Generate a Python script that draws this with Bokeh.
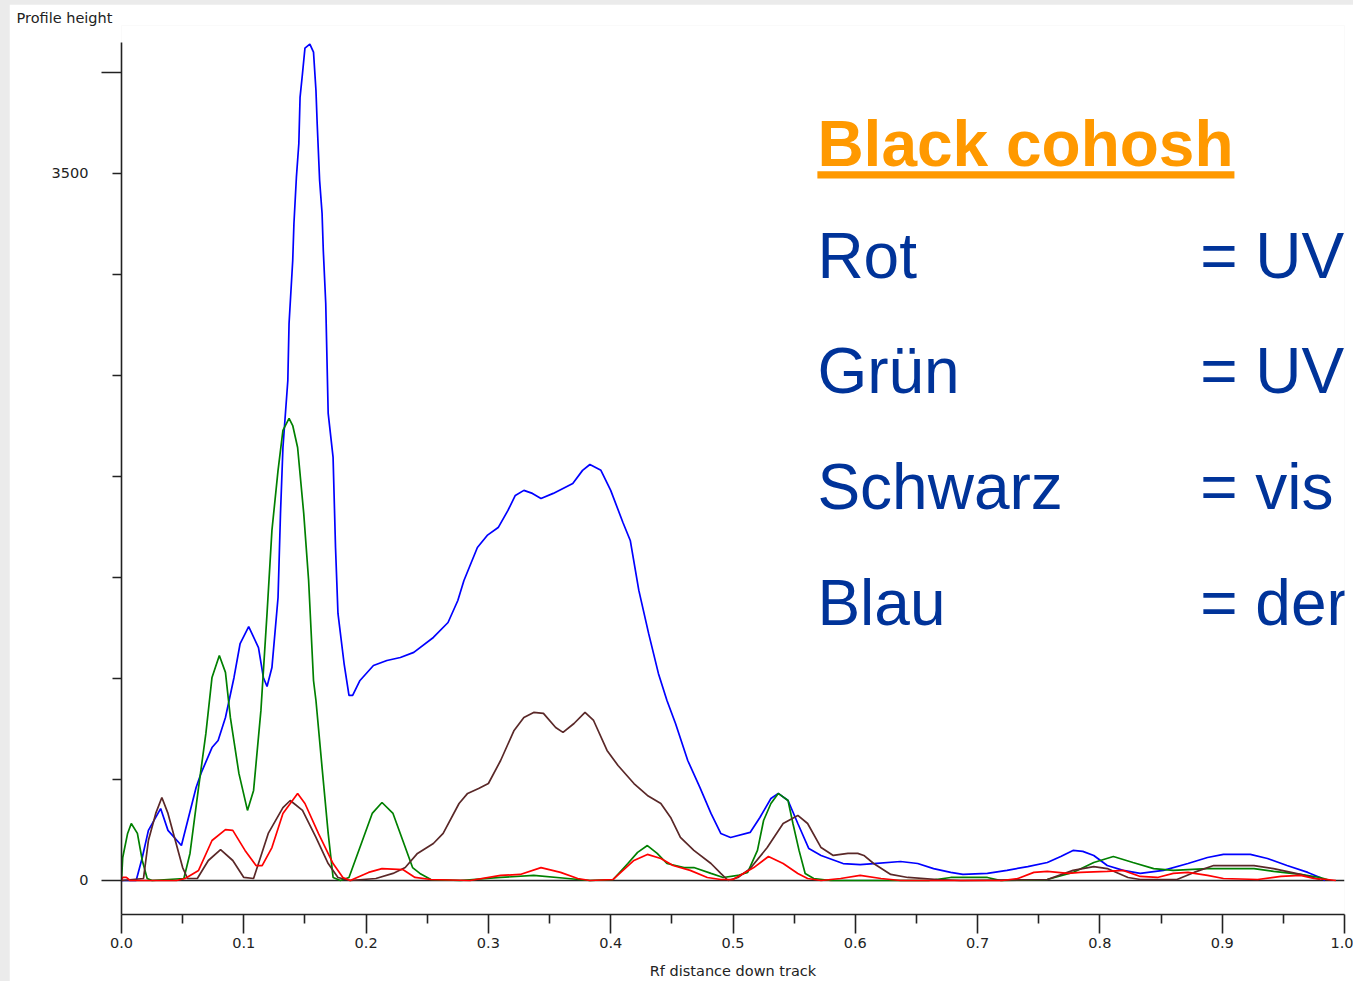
from bokeh.plotting import figure
from bokeh.models import (Range1d, FixedTicker, PrintfTickFormatter, Span, Label,
                          BoxAnnotation, Spacer, LinearAxis)
from bokeh.layouts import column, row
from bokeh.embed import file_html
from bokeh.resources import INLINE

# Densitometric profiles (Rf vs. profile height) for each detection mode
BLUE_RF = [0.000, 0.012, 0.017, 0.022, 0.032, 0.038, 0.049, 0.061, 0.065, 0.074,
           0.079, 0.085, 0.092, 0.097, 0.104, 0.112, 0.116, 0.119, 0.123, 0.128,
           0.130, 0.132, 0.136, 0.137, 0.140, 0.141, 0.143, 0.145, 0.146, 0.148,
           0.150, 0.154, 0.157, 0.159, 0.160, 0.162, 0.164, 0.165, 0.167, 0.169,
           0.173, 0.175, 0.177, 0.182, 0.186, 0.189, 0.195, 0.206, 0.217, 0.228,
           0.239, 0.255, 0.267, 0.275, 0.280, 0.291, 0.299, 0.308, 0.316, 0.322,
           0.329, 0.336, 0.343, 0.353, 0.369, 0.377, 0.383, 0.392, 0.400, 0.410,
           0.416, 0.423, 0.431, 0.439, 0.446, 0.453, 0.463, 0.473, 0.482, 0.490,
           0.498, 0.514, 0.522, 0.531, 0.537, 0.545, 0.553, 0.562, 0.572, 0.590,
           0.604, 0.615, 0.637, 0.651, 0.664, 0.678, 0.688, 0.708, 0.724, 0.741,
           0.757, 0.768, 0.778, 0.786, 0.795, 0.806, 0.819, 0.833, 0.852, 0.872,
           0.888, 0.901, 0.923, 0.937, 0.953, 0.970, 0.980, 0.984]
BLUE_H = [0, 0, 114, 248, 356, 248, 173, 460, 530, 658,
          693, 807, 1005, 1173, 1257, 1153, 1005, 960, 1054, 1401,
          1817, 2143, 2475, 2757, 3069, 3252, 3480, 3648, 3876, 3995,
          4120, 4140, 4100, 3911, 3747, 3465, 3302, 3119, 2856, 2312,
          2094, 1648, 1322, 1074, 916, 916, 990, 1064, 1089, 1104,
          1129, 1203, 1277, 1386, 1485, 1648, 1708, 1747, 1832, 1906,
          1931, 1916, 1891, 1916, 1965, 2030, 2059, 2030, 1931, 1772,
          1683, 1436, 1223, 1025, 891, 777, 594, 460, 332, 233,
          213, 238, 312, 406, 431, 396, 282, 158, 124, 84,
          79, 84, 94, 84, 59, 40, 30, 35, 50, 69,
          89, 119, 149, 144, 124, 74, 50, 35, 50, 84,
          114, 129, 129, 109, 74, 40, 15, 0]

GREEN_RF = [0.000, 0.001, 0.005, 0.008, 0.013, 0.017, 0.021, 0.025, 0.051, 0.056,
            0.063, 0.069, 0.074, 0.080, 0.085, 0.089, 0.096, 0.103, 0.108, 0.114,
            0.119, 0.123, 0.128, 0.132, 0.137, 0.140, 0.144, 0.149, 0.153, 0.157,
            0.159, 0.164, 0.169, 0.173, 0.179, 0.186, 0.197, 0.205, 0.213, 0.222,
            0.230, 0.238, 0.244, 0.253, 0.277, 0.310, 0.337, 0.365, 0.383, 0.402,
            0.414, 0.422, 0.430, 0.438, 0.446, 0.460, 0.468, 0.482, 0.492, 0.504,
            0.512, 0.520, 0.525, 0.531, 0.537, 0.545, 0.549, 0.554, 0.559, 0.566,
            0.580, 0.660, 0.678, 0.708, 0.719, 0.757, 0.778, 0.795, 0.811, 0.827,
            0.844, 0.860, 0.888, 0.926, 0.942, 0.964, 0.980, 0.986]
GREEN_H = [0, 114, 233, 282, 233, 99, 10, 0, 10, 134,
           460, 728, 1005, 1114, 1030, 807, 530, 347, 446, 842,
           1322, 1733, 2030, 2228, 2287, 2252, 2143, 1817, 1485, 990,
           891, 559, 233, 15, 0, 15, 198, 332, 386, 332,
           198, 64, 35, 5, 0, 15, 25, 10, 0, 5,
           84, 139, 173, 134, 84, 64, 64, 35, 15, 25,
           40, 149, 297, 381, 431, 396, 282, 149, 35, 10,
           0, 0, 15, 15, 0, 5, 40, 89, 119, 89,
           59, 50, 59, 59, 45, 30, 15, 5]

RED_RF = [0.000, 0.001, 0.004, 0.007, 0.045, 0.052, 0.063, 0.074, 0.085, 0.091,
          0.101, 0.110, 0.115, 0.123, 0.132, 0.144, 0.150, 0.161, 0.173, 0.181,
          0.187, 0.202, 0.213, 0.230, 0.240, 0.253, 0.285, 0.310, 0.326, 0.343,
          0.359, 0.373, 0.383, 0.402, 0.419, 0.430, 0.441, 0.451, 0.465, 0.479,
          0.490, 0.500, 0.517, 0.529, 0.541, 0.553, 0.561, 0.572, 0.588, 0.604,
          0.621, 0.637, 0.720, 0.733, 0.746, 0.757, 0.774, 0.784, 0.806, 0.819,
          0.833, 0.847, 0.860, 0.872, 0.888, 0.901, 0.929, 0.948, 0.964, 0.975,
          0.986, 0.993]
RED_H = [0, 15, 15, 0, 0, 10, 50, 198, 252, 248,
         149, 74, 74, 163, 332, 431, 381, 233, 84, 15,
         0, 40, 59, 54, 15, 5, 0, 25, 30, 64,
         40, 10, 0, 5, 99, 129, 109, 74, 50, 15,
         5, 5, 64, 119, 84, 35, 10, 0, 10, 25,
         10, 0, 0, 10, 40, 45, 35, 40, 45, 50,
         20, 15, 35, 40, 25, 10, 5, 20, 25, 10,
         5, 0]

BROWN_RF = [0.000, 0.018, 0.022, 0.028, 0.033, 0.038, 0.044, 0.050, 0.054, 0.062,
            0.071, 0.081, 0.091, 0.100, 0.108, 0.120, 0.132, 0.138, 0.148, 0.159,
            0.169, 0.177, 0.187, 0.208, 0.222, 0.232, 0.242, 0.255, 0.263, 0.276,
            0.283, 0.292, 0.300, 0.310, 0.321, 0.329, 0.337, 0.345, 0.355, 0.361,
            0.370, 0.379, 0.386, 0.397, 0.406, 0.419, 0.430, 0.441, 0.449, 0.457,
            0.468, 0.482, 0.490, 0.496, 0.504, 0.514, 0.528, 0.541, 0.553, 0.561,
            0.572, 0.582, 0.594, 0.602, 0.607, 0.615, 0.629, 0.643, 0.667, 0.686,
            0.757, 0.778, 0.795, 0.806, 0.823, 0.833, 0.863, 0.877, 0.893, 0.926,
            0.942, 0.964, 0.980]
BROWN_H = [0, 10, 198, 332, 411, 332, 198, 64, 10, 10,
           99, 153, 99, 15, 10, 233, 361, 396, 347, 213,
           84, 15, 0, 10, 35, 64, 134, 183, 233, 381,
           431, 455, 480, 594, 743, 807, 832, 827, 757, 733,
           777, 832, 792, 644, 569, 480, 421, 381, 312, 213,
           149, 84, 35, 0, 15, 59, 163, 282, 322, 282,
           163, 124, 134, 134, 124, 84, 30, 15, 5, 0,
           5, 50, 69, 59, 15, 5, 5, 40, 74, 74,
           59, 30, 5]

X_TICKS = [0.0, 0.1, 0.2, 0.3, 0.4, 0.5, 0.6, 0.7, 0.8, 0.9, 1.0]
X_MINOR = [0.05, 0.15, 0.25, 0.35, 0.45, 0.55, 0.65, 0.75, 0.85, 0.95]
Y_LONG_TICKS = [0, 4000]
Y_SHORT_TICKS = [500, 1000, 1500, 2000, 2500, 3000, 3500]
Y_LABELLED = [0, 3500]
Y_AXIS_SPAN = (-168.3, 4148)

TITLE = "Black cohosh"
MODES = ["Rot", "Grün", "Schwarz", "Blau"]
MEANINGS = ["= UV", "= UV", "= vis", "= der"]

AXIS = "#222222"
FONT = "DejaVu Sans"
FS = "14.5px"
KEY_FS = "64px"
PAGE_GREY = "#ebebeb"

p = figure(width=1344, height=977,
           x_range=Range1d(0, 1), y_range=Range1d(-168.3, 4232),
           output_backend="svg", toolbar_location=None,
           min_border_left=112, min_border_right=9,
           min_border_top=21, min_border_bottom=67,
           background_fill_color="white", border_fill_color="white",
           outline_line_color=None, title="Profile height")
p.grid.visible = False

p.title.align = "left"
p.title.vertical_align = "bottom"
p.title.offset = -105
p.title.standoff = 0
p.title.text_font = FONT
p.title.text_font_size = FS
p.title.text_font_style = "normal"
p.title.text_color = AXIS

# x axis
xa = p.xaxis[0]
xa.ticker = FixedTicker(ticks=X_TICKS, minor_ticks=X_MINOR)
xa.formatter = PrintfTickFormatter(format="%.1f")
xa.axis_label = "Rf distance down track"
xa.axis_label_text_font = FONT
xa.axis_label_text_font_size = FS
xa.axis_label_text_font_style = "normal"
xa.axis_label_text_color = AXIS
xa.axis_label_standoff = 12
xa.major_label_text_font = FONT
xa.major_label_text_font_size = FS
xa.major_label_text_color = AXIS
xa.major_label_standoff = 4
xa.major_tick_in = 0
xa.major_tick_out = 19
xa.minor_tick_in = 0
xa.minor_tick_out = 9

# y axis: tick marks only (long at 0 and 4000, short in between)
ya = p.yaxis[0]
ya.bounds = Y_AXIS_SPAN
ya.ticker = FixedTicker(ticks=Y_LONG_TICKS, minor_ticks=Y_SHORT_TICKS)
ya.major_label_overrides = {0: "", 4000: ""}
ya.major_label_text_font_size = "0px"
ya.major_label_standoff = 0
ya.major_tick_in = 0
ya.major_tick_out = 20
ya.minor_tick_in = 0
ya.minor_tick_out = 9

for a in (xa, ya):
    a.axis_line_color = AXIS
    a.axis_line_width = 1.6
    a.major_tick_line_color = AXIS
    a.major_tick_line_width = 1.6
    a.minor_tick_line_color = AXIS
    a.minor_tick_line_width = 1.6

# labels for the y axis, set just outside the tick marks
ylab = LinearAxis(ticker=FixedTicker(ticks=Y_LABELLED, minor_ticks=[]),
                  axis_line_color=None, major_tick_line_color=None,
                  minor_tick_line_color=None, major_tick_in=0, major_tick_out=0,
                  minor_tick_in=0, minor_tick_out=0,
                  major_label_standoff=13, major_label_text_font=FONT,
                  major_label_text_font_size=FS, major_label_text_color=AXIS)
p.add_layout(ylab, "left")

# baseline at zero height
p.add_layout(Span(location=0, dimension="width", line_color=AXIS,
                  line_width=1.6, level="underlay"))

p.line(BLUE_RF, BLUE_H, line_color="#0000ff", line_width=1.7)
p.line(GREEN_RF, GREEN_H, line_color="#008000", line_width=1.7)
p.line(BROWN_RF, BROWN_H, line_color="#5a2828", line_width=1.7)
p.line(RED_RF, RED_H, line_color="#ff0000", line_width=1.7)

# key text on the right
TEXT_X = 0.569
EQ_X = 0.882
p.add_layout(Label(x=TEXT_X, y=3645, text=TITLE, text_font="Liberation Sans",
                   text_font_size=KEY_FS, text_font_style="bold",
                   text_color="#ff9900", text_baseline="alphabetic"))
p.add_layout(BoxAnnotation(left=TEXT_X, right=0.910, bottom=3475, top=3510,
                           fill_color="#ff9900", fill_alpha=1.0, line_color=None))
ROW_Y = [3089, 2520, 1946, 1376]
for name, meaning, yy in zip(MODES, MEANINGS, ROW_Y):
    p.add_layout(Label(x=TEXT_X, y=yy, text=name, text_font="Liberation Sans",
                       text_font_size=KEY_FS, text_color="#003399",
                       text_baseline="alphabetic"))
    p.add_layout(Label(x=EQ_X, y=yy, text=meaning, text_font="Liberation Sans",
                       text_font_size=KEY_FS, text_color="#003399",
                       text_baseline="alphabetic"))

grey = {"background-color": PAGE_GREY}
layout = column(Spacer(width=1353, height=4, styles=grey),
                row(Spacer(width=9, height=977, styles=grey), p),
                styles=grey)

open("out.html", "w").write(file_html(layout, INLINE))
